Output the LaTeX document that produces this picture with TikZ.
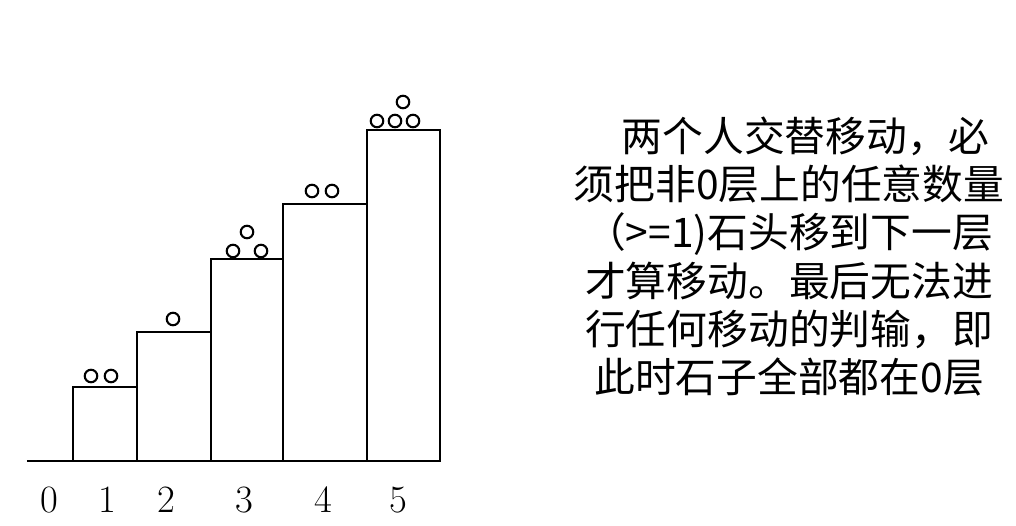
\documentclass[tikz,border=0pt]{standalone}
\usepackage{fontspec}
\newfontfamily\cjk{Noto Sans CJK SC}

\begin{document}
\begin{tikzpicture}[line width=1.3pt,
    stone/.style={line width=1.2pt},
    layer/.style={font=\fontsize{22}{26}\selectfont}]
    \useasboundingbox (0,0) rectangle (20.32,10.52);

    % ground and steps
    \draw (0.54,1.30) -- (8.80,1.30);
    \draw (1.46,1.30) rectangle (2.74,2.78);
    \draw (2.74,1.30) rectangle (4.22,3.88);
    \draw (4.22,1.30) rectangle (5.66,5.34);
    \draw (5.66,1.30) rectangle (7.34,6.44);
    \draw (7.34,1.30) rectangle (8.80,7.92);

    % stones
    \foreach \x/\y in {1.82/3.00, 2.22/3.00, 3.46/4.14,
                       4.66/5.50, 5.22/5.50, 4.94/5.88,
                       6.24/6.70, 6.64/6.70,
                       7.54/8.10, 7.90/8.10, 8.26/8.10, 8.06/8.48}
        \draw[stone] (\x,\y) circle (0.125);

    % layer numbers
    \foreach \n/\x in {0/0.98, 1/2.14, 2/3.32, 3/4.88, 4/6.46, 5/7.96}
        \node[layer] (lbl\n) at (\x,0.52) {\n};

    \node[font={\cjk\fontsize{23.2}{27.4}\selectfont}, align=center] (rule) at (15.78,5.39)
        {\hspace*{0.8em}两个人交替移动，必\\须把非0层上的任意数量\\（>=1)石头移到下一层\\才算移动。最后无法进\\行任何移动的判输，即\\此时石子全部都在0层};
\end{tikzpicture}
\end{document}
